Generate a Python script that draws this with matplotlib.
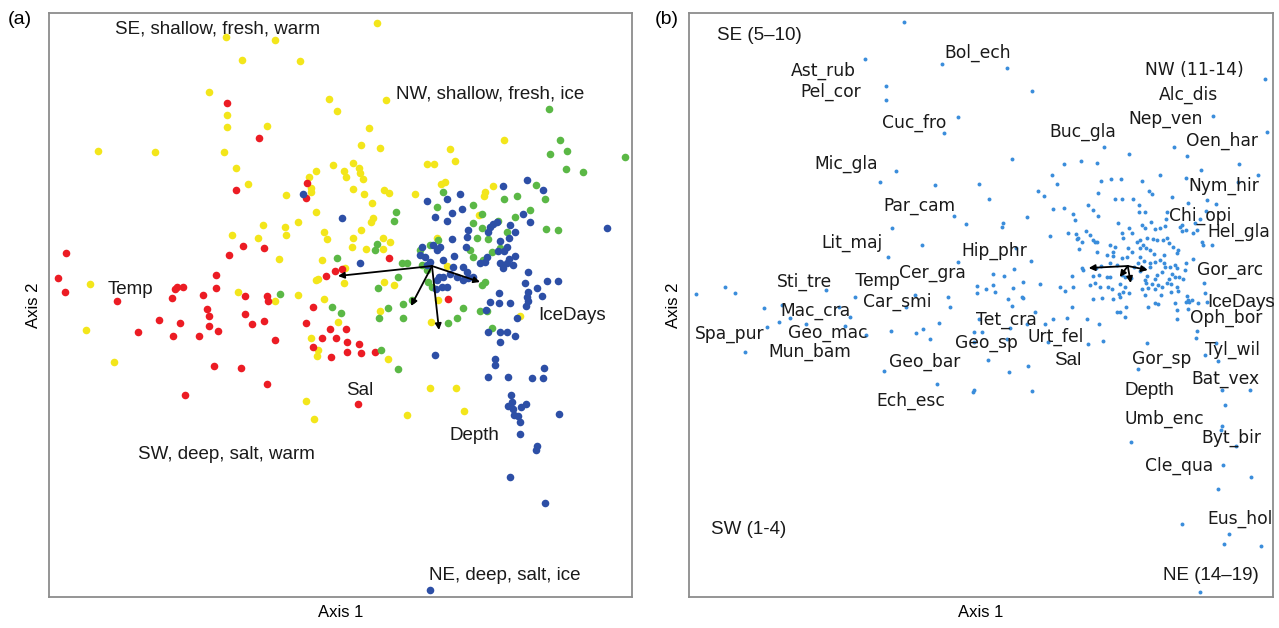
import numpy as np
import matplotlib
matplotlib.use("Agg")
import matplotlib.pyplot as plt

# ordination scores (x100)
# panel (a): sites coloured by region
red_pts = [(-113, 202), (-81, 167), (-33, 122), (-34, 107), (-104, 115), (-274, 52), (-97, 59), (-76, 57),
           (-111, 50), (-282, 27), (-275, 13), (-124, 30), (-124, 17), (-165, 16), (-163, 18), (-157, 18),
           (-168, 7), (-137, 10), (-223, 4), (-95, 9), (-73, 9), (-72, 4), (-14, 29), (-5, 34), (2, 36),
           (-27, -2), (-133, -4), (-202, -27), (-181, -15), (-160, -18), (-167, -31), (-131, -11), (-131, -21),
           (-122, -26), (-141, -31), (-126, -61), (-99, -63), (-155, -90), (-95, -9), (-88, -19), (-76, -16),
           (-65, -35), (-73, -79), (-34, -18), (-10, -24), (6, -24), (-18, -33), (-4, -33), (7, -37), (19, -39),
           (21, -48), (7, -47), (35, -47), (-9, -52), (-27, -42), (18, -99), (49, 47), (108, 6)]
yellow_pts = [(-114, 268), (-65, 265), (-98, 245), (-40, 244), (-131, 213), (-11, 206), (-3, 194), (-113, 190),
              (-113, 178), (-73, 179), (-242, 154), (-185, 153), (-116, 153), (-7, 140), (-104, 137), (-24, 134),
              (-31, 128), (-92, 121), (-29, 117), (-29, 113), (-54, 110), (-24, 93), (-42, 83), (-77, 80),
              (-55, 78), (-54, 70), (-16, 73), (-13, 66), (-108, 70), (-82, 67), (-61, 46), (-18, 45), (-24, 25),
              (-22, 26), (-250, 21), (-102, 13), (-42, 10), (-65, 4), (-16, 6), (37, 282), (46, 205), (29, 177),
              (21, 160), (40, 157), (164, 165), (110, 156), (115, 144), (87, 141), (94, 141), (13, 142), (19, 137),
              (20, 132), (4, 134), (6, 128), (23, 126), (101, 121), (105, 123), (153, 119), (145, 113), (144, 109),
              (13, 116), (24, 111), (44, 115), (49, 112), (75, 111), (32, 102), (33, 87), (31, 83), (21, 75),
              (13, 67), (43, 67), (50, 63), (12, 58), (26, 56), (43, 56), (97, 67), (139, 90), (107, 39), (5, 37),
              (4, 22), (54, 20), (44, 23), (40, -6), (91, -17), (180, -11), (-2, -17), (48, -54), (90, -83),
              (116, -83), (67, -110), (124, -106), (98, 5), (-254, -25), (-226, -57), (-34, -96), (-26, -114),
              (-29, -33), (-22, -45), (-23, -51)]
green_pts = [(209, 196), (220, 165), (227, 154), (210, 151), (285, 148), (226, 136), (243, 133), (196, 120),
             (205, 106), (164, 106), (177, 109), (133, 100), (190, 95), (142, 91), (175, 88), (158, 84), (133, 82),
             (142, 77), (167, 73), (206, 76), (218, 75), (103, 113), (97, 98), (56, 93), (54, 84), (37, 61),
             (35, 55), (62, 42), (67, 42), (80, 55), (90, 60), (98, 65), (82, 40), (87, 35), (88, 23), (92, 18),
             (58, 28), (38, 17), (72, 5), (63, 1), (48, -3), (142, 20), (145, 23), (140, -6), (147, -6), (123, -3),
             (117, -13), (108, -18), (39, -13), (63, -13), (1, -8), (-8, -2), (152, -23), (41, -45), (-3, 47),
             (137, 67), (148, 66), (143, 45), (133, 48), (130, 55), (160, 57), (152, 53), (58, -64), (-60, 11)]
blue_pts = [(-37, 111), (2, 87), (20, 42), (87, 104), (107, 106), (120, 111), (163, 119), (187, 125), (203, 115),
            (112, 92), (95, 88), (107, 84), (122, 96), (183, 91), (190, 83), (267, 77), (170, 80), (175, 73),
            (169, 67), (153, 81), (157, 83), (150, 78), (148, 73), (128, 75), (127, 68), (160, 64), (126, 58),
            (112, 66), (100, 58), (97, 55), (93, 60), (82, 58), (80, 50), (85, 48), (90, 43), (87, 40), (114, 49),
            (103, 45), (113, 38), (110, 31), (117, 28), (123, 38), (127, 33), (123, 25), (128, 27), (140, 42),
            (145, 43), (147, 48), (160, 42), (163, 37), (167, 42), (169, 46), (175, 49), (173, 40), (158, 54),
            (164, 54), (167, 58), (133, 28), (107, 18), (103, 28), (99, 28), (97, 25), (102, 18), (96, 16),
            (188, 33), (207, 24), (218, 24), (185, 22), (197, 17), (188, 13), (187, 8), (202, 9), (159, 12),
            (170, 2), (159, 2), (150, 3), (177, -13), (186, -1), (148, -27), (160, -27), (167, -27), (175, -31),
            (160, -37), (95, -50), (188, 4), (146, -5), (155, -54), (155, -60), (148, -72), (168, -72), (192, -73),
            (203, -73), (204, -63), (171, -90), (172, -97), (168, -101), (173, -104), (181, -102), (186, -99),
            (174, -110), (178, -111), (180, -117), (219, -109), (180, -129), (197, -141), (196, -145), (170, -172),
            (205, -198), (90, -285)]

env_origin_a = (92, 39)
env_names_a = ["Temp", "IceDays", "Sal", "Depth"]
env_tips_a = [(-2, 29), (140, 23), (71, -1), (99, -25)]
env_label_pos_a = [(-210, 16), (232, -10), (20, -85), (134, -130)]

region_names_a = ["SE, shallow, fresh, warm", "NW, shallow, fresh, ice",
                  "SW, deep, salt, warm", "NE, deep, salt, ice"]
region_pos_a = [(-122, 276), (150, 211), (-114, -149), (165, -270)]

# panel (b): species scores
species_pts = [(-76, 283), (-115, 246), (-38, 241), (-94, 219), (-94, 205), (-22, 188), (-36, 172), (-84, 134),
               (-100, 123), (-45, 120), (-1, 121), (-26, 89), (-14, 81), (-88, 77), (-58, 60), (-92, 48),
               (-22, 43), (-284, 11), (-255, 18), (-245, 12), (-154, 15), (-125, 8), (-65, 10), (-32, 8),
               (-30, -2), (-3, 19), (-3, 12), (-216, -3), (-198, 0), (-201, -17), (-190, -13), (-213, -22),
               (-235, -47), (-174, -19), (-141, -2), (-130, -12), (-135, -21), (-114, -30), (-89, -26), (-64, -28),
               (-57, -24), (-50, -34), (-41, -18), (-74, -2), (-96, -66), (-43, -79), (-7, -87), (-6, -27),
               (1, -27), (-6, -37), (22, 82), (21, 78), (35, 57), (50, 44), (69, 69), (87, 72), (97, 67), (105, 74),
               (116, 63), (12, 31), (33, 36), (42, 23), (59, 21), (102, 35), (91, 29), (79, 18), (84, 14), (5, 16),
               (12, 20), (14, 13), (32, 17), (27, 6), (42, 7), (7, -55), (28, -67), (47, -61), (54, -7), (64, -19),
               (72, -14), (86, -13), (91, -2), (106, -14), (118, -19), (107, -39), (122, -36), (166, -38),
               (139, -7), (144, -12), (157, -64), (177, 1), (196, -14), (205, 3), (208, 3), (226, 3), (216, -26),
               (215, -33), (235, -38), (224, -50), (237, -56), (241, -85), (269, -85), (244, -100), (241, -121),
               (240, -125), (150, -137), (255, -141), (242, -160), (270, -172), (237, -184), (201, -219),
               (248, -229), (243, -239), (280, -241), (219, -287), (-6, -85), (51, -86), (26, -34), (29, -23),
               (67, -37), (-1, -14), (46, -19),
               (26, 237), (51, 214), (284, 226), (232, 189), (286, 173), (123, 158), (148, 151), (193, 158),
               (206, 149), (31, 146), (83, 141), (100, 144), (116, 142), (258, 141), (220, 135), (71, 130),
               (8, 106), (76, 121), (120, 124), (130, 126), (140, 126), (161, 124), (179, 130), (205, 127),
               (277, 130), (257, 123), (57, 114), (63, 109), (117, 112), (134, 106), (141, 106), (168, 114),
               (171, 111), (152, 106), (191, 108), (207, 102), (226, 105), (46, 88), (72, 96), (83, 97), (107, 100),
               (112, 95), (117, 89), (92, 91), (94, 85), (158, 100), (164, 93), (158, 93), (186, 93), (185, 86),
               (201, 80), (201, 74), (214, 82), (216, 75), (235, 101), (225, 94), (96, 66), (112, 65), (98, 56),
               (231, 60), (212, 46), (223, 22), (224, 12), (204, 35), (23, 29), (41, 8), (31, -1), (219, 86),
               (207, 5),
               (170, 83), (137, 82), (148, 77), (151, 72), (161, 80), (164, 77), (174, 76), (179, 77), (184, 79),
               (199, 78), (205, 75), (212, 72), (222, 60), (221, 63), (95, 71), (101, 63), (109, 70), (114, 63),
               (116, 53), (129, 60), (134, 58), (132, 53), (141, 72), (142, 67), (147, 57), (151, 53), (141, 47),
               (146, 48), (156, 63), (159, 65), (166, 67), (162, 60), (159, 57), (165, 57), (169, 55), (172, 66),
               (176, 65), (186, 67), (182, 65), (188, 62), (192, 58), (197, 55), (196, 52), (173, 51), (183, 50),
               (179, 45), (174, 43), (183, 42), (159, 48), (163, 44), (169, 42), (169, 38), (132, 49), (126, 50),
               (129, 42), (136, 40), (120, 39), (115, 37), (101, 37), (112, 29), (118, 30), (126, 28), (129, 28),
               (141, 30), (144, 28), (150, 27), (162, 37), (159, 34), (157, 42), (153, 38), (166, 29), (164, 25),
               (174, 26), (176, 30), (181, 33), (184, 38), (189, 38), (194, 40), (196, 37), (191, 31), (194, 28),
               (188, 26), (186, 22), (198, 28), (202, 26), (205, 42), (92, 18), (109, 20), (114, 22), (119, 18),
               (127, 18), (131, 16), (139, 21), (144, 18), (142, 13), (148, 12), (165, 22), (171, 21), (167, 17),
               (174, 16), (177, 20), (181, 18), (190, 21), (196, 18), (197, 14), (190, 13), (206, 9), (211, 5),
               (180, 10), (164, 10), (161, 16), (138, 11), (139, 8), (112, 6), (121, 7), (132, 6), (136, -7),
               (145, -2), (167, -2), (174, 2), (194, 2), (196, -5), (207, -4), (217, 2)]

env_origin_b = (147, 39)
env_tips_b = [(108, 37), (167, 35), (150, 22), (139, 28)]

species_names = ["Bol_ech", "Ast_rub", "Pel_cor", "Cuc_fro", "Mic_gla", "Par_cam", "Lit_maj", "Hip_phr",
                 "Cer_gra", "Sti_tre", "Car_smi", "Mac_cra", "Spa_pur", "Geo_mac", "Mun_bam", "Geo_bar",
                 "Ech_esc", "Tet_cra", "Geo_sp", "Urt_fel", "Buc_gla", "Alc_dis", "Nep_ven", "Oen_har",
                 "Nym_hir", "Chi_opi", "Hel_gla", "Gor_arc", "Oph_bor", "Tyl_wil", "Gor_sp", "Bat_vex",
                 "Umb_enc", "Byt_bir", "Cle_qua", "Eus_hol", "NW (11-14)"]
species_label_pos = [(-3, 252), (-157, 234), (-149, 213), (-66, 182), (-134, 141), (-61, 99), (-128, 62),
                     (14, 54), (-48, 32), (-176, 23), (-83, 3), (-165, -6), (-250, -29), (-152, -28),
                     (-170, -47), (-56, -57), (-70, -96), (26, -15), (6, -38), (75, -32), (102, 173),
                     (208, 210), (185, 186), (241, 164), (243, 119), (219, 89), (258, 73), (249, 35),
                     (245, -13), (252, -45), (181, -54), (245, -74), (183, -114), (250, -133), (198, -161),
                     (259, -214), (214, 235)]

plain_names_b = ["SE (5\u201310)", "SW (1-4)", "NE (14\u201319)", "Temp", "Sal", "Depth", "IceDays"]
plain_pos_b = [(-221, 270), (-231, -224), (230, -271), (-103, 24), (87, -55), (169, -85), (260, 3)]

colors = {"red": "#EC1C24", "yellow": "#F3E61B", "green": "#5BB846", "blue": "#2D4FA6"}
sans = ["Liberation Sans", "DejaVu Sans"]
ink = "#1a1a1a"


def xy(pts):
    a = np.array(pts, dtype=float) / 100.0
    return a[:, 0], a[:, 1]


def frame(ax):
    ax.set_xlim(-2.91, 2.92)
    ax.set_ylim(-2.92, 2.92)
    ax.set_xticks([])
    ax.set_yticks([])
    for s in ax.spines.values():
        s.set_color("#8c8c8c")
        s.set_linewidth(1.3)


def arrows(ax, origin, tips):
    ox, oy = origin[0] / 100, origin[1] / 100
    for tx, ty in tips:
        ax.annotate("", xy=(tx / 100, ty / 100), xytext=(ox, oy),
                    arrowprops=dict(arrowstyle="-|>", color="black", lw=1.3,
                                    mutation_scale=9, shrinkA=0, shrinkB=0),
                    zorder=5)


fig = plt.figure(figsize=(12.79, 6.28), dpi=100)
ax_a = fig.add_axes([49 / 1279, 31 / 628, 583 / 1279, 584 / 628])
ax_b = fig.add_axes([689 / 1279, 31 / 628, 584 / 1279, 584 / 628])

# ---- panel (a)
frame(ax_a)
for pts, c in [(yellow_pts, "yellow"), (red_pts, "red"), (green_pts, "green"), (blue_pts, "blue")]:
    x, y = xy(pts)
    ax_a.scatter(x, y, s=30, color=colors[c], linewidths=0, zorder=3)
arrows(ax_a, env_origin_a, env_tips_a)
for name, (px, py) in zip(env_names_a, env_label_pos_a):
    ax_a.text(px / 100, py / 100, name, ha="center", va="center", fontsize=13.5, family=sans, color=ink)
for name, (px, py) in zip(region_names_a, region_pos_a):
    ax_a.text(px / 100, py / 100, name, ha="center", va="center", fontsize=13.5, family=sans, color=ink)
ax_a.set_xlabel("Axis 1", fontsize=12, family=sans, labelpad=6)
ax_a.set_ylabel("Axis 2", fontsize=12, family=sans, labelpad=6)

# ---- panel (b)
frame(ax_b)
x, y = xy(species_pts)
ax_b.scatter(x, y, s=8, color="#3A8DDB", linewidths=0, zorder=3)
arrows(ax_b, env_origin_b, env_tips_b)
for name, (px, py) in zip(species_names, species_label_pos):
    ax_b.text(px / 100, py / 100, name, ha="center", va="center", fontsize=12.3, family="DejaVu Sans",
              color=ink, zorder=4)
for name, (px, py) in zip(plain_names_b, plain_pos_b):
    ax_b.text(px / 100, py / 100, name, ha="center", va="center", fontsize=13.5, family=sans,
              color=ink, zorder=4)
ax_b.set_xlabel("Axis 1", fontsize=12, family=sans, labelpad=6)
ax_b.set_ylabel("Axis 2", fontsize=12, family=sans, labelpad=6)

fig.text(20 / 1279, 1 - 20 / 628, "(a)", ha="center", va="center", fontsize=14, family=sans)
fig.text(667 / 1279, 1 - 20 / 628, "(b)", ha="center", va="center", fontsize=14, family=sans)

fig.savefig("out.png", dpi=100)
